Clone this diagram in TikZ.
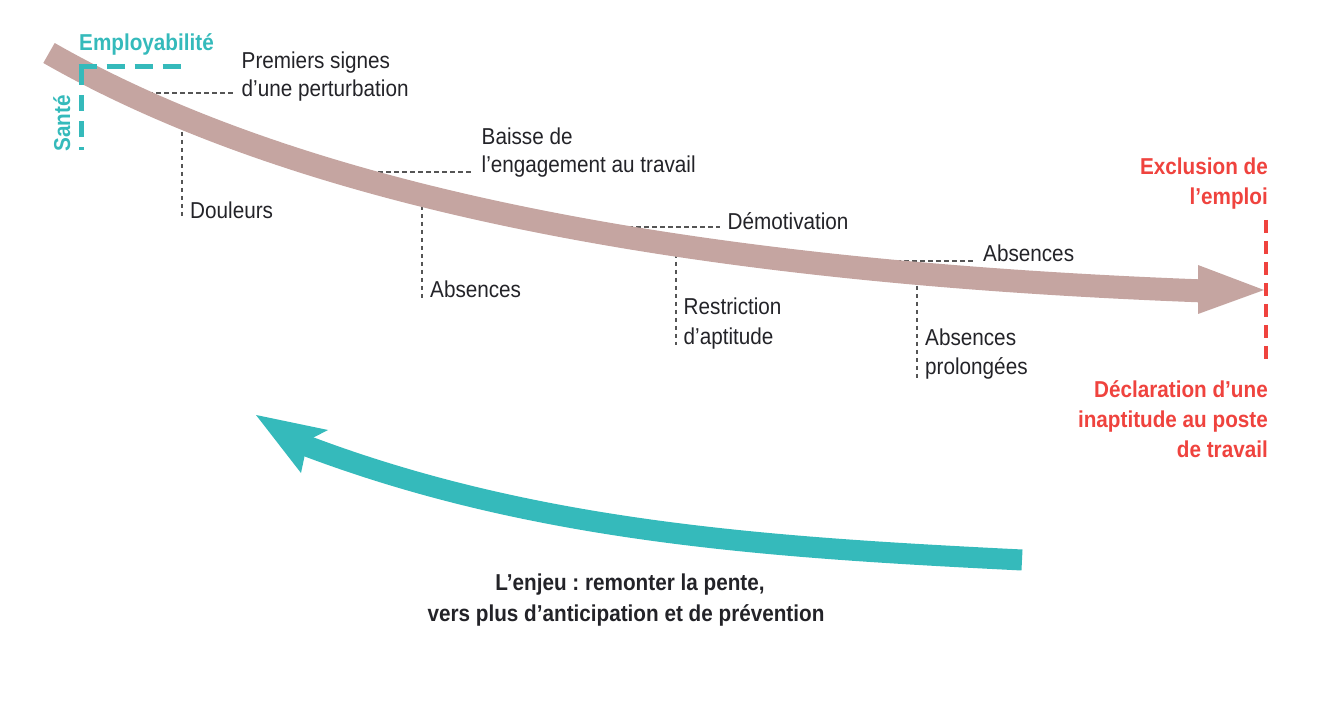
\documentclass[tikz,border=0pt]{standalone}
\usepackage{fontspec}
\setmainfont{Liberation Sans}[FakeStretch=0.9]
\frenchspacing
\definecolor{band}{RGB}{197,165,161}
\definecolor{teal}{RGB}{53,186,187}
\definecolor{excl}{RGB}{239,67,62}
\definecolor{txt}{RGB}{35,35,40}
\definecolor{lead}{RGB}{85,85,85}
\tikzset{
  lbl/.style={font=\fontsize{23}{30}\selectfont, text=txt, inner sep=0pt, anchor=base west},
  redlbl/.style={font=\fontsize{23}{30}\selectfont\bfseries, text=excl, inner sep=0pt, anchor=base east},
  teallbl/.style={font=\fontsize{23}{30}\selectfont\bfseries, text=teal, inner sep=0pt},
  boldlbl/.style={font=\fontsize{23}{30}\selectfont\bfseries, text=txt, inner sep=0pt, anchor=base},
  leader/.style={draw=lead, line width=1.4pt, dash pattern=on 4.5pt off 3.5pt},
  bandline/.style={draw=band, line width=23pt},
  tealline/.style={draw=teal, line width=21pt},
  tealdash/.style={draw=teal, line width=5pt},
  reddash/.style={draw=excl, line width=4.5pt, dash pattern=on 13pt off 8pt}
}
\begin{document}
\begin{tikzpicture}[x=1pt,y=-1pt]
\useasboundingbox (0,0) rectangle (1326,711);

% leader coordinates
\coordinate (l1a) at (140,93);  \coordinate (l1b) at (233,93);
\coordinate (l2a) at (182,124); \coordinate (l2b) at (182,218);
\coordinate (l3a) at (370,172); \coordinate (l3b) at (472,172);
\coordinate (l4a) at (422,198); \coordinate (l4b) at (422,298);
\coordinate (l5a) at (620,227); \coordinate (l5b) at (720,227);
\coordinate (l6a) at (676,246); \coordinate (l6b) at (676,345);
\coordinate (l7a) at (880,261); \coordinate (l7b) at (975,261);
\coordinate (l8a) at (917,278); \coordinate (l8b) at (917,380);
\draw[leader] (l1a) -- (l1b);
\draw[leader] (l2a) -- (l2b);
\draw[leader] (l3a) -- (l3b);
\draw[leader] (l4a) -- (l4b);
\draw[leader] (l5a) -- (l5b);
\draw[leader] (l6a) -- (l6b);
\draw[leader] (l7a) -- (l7b);
\draw[leader] (l8a) -- (l8b);

% brown descending arrow
\coordinate (bstart) at (49,53);
\coordinate (bend) at (1204,291);
\draw[bandline] (bstart) .. controls (329,213) and (750,274) .. (bend);
\coordinate (htop) at (1198,265);
\coordinate (hbot) at (1198,314);
\coordinate (htip) at (1264,290);
\fill[band] (htop) -- (htip) -- (hbot) -- cycle;

% teal L (Santé / Employabilité)
\coordinate (corner) at (81,67);
\coordinate (santeend) at (81,150);
\coordinate (empend) at (181,67);
\draw[tealdash, dash pattern=on 16pt off 10pt] ([yshift=-2.5pt]corner) -- (santeend);
\draw[tealdash, dash pattern=on 18pt off 10pt] ([xshift=-2.5pt]corner) -- (empend);

% red dashed limit
\coordinate (rtop) at (1266,220);
\coordinate (rbot) at (1266,362);
\draw[reddash] (rtop) -- (rbot);

% teal ascending arrow
\coordinate (tstart) at (1022,560);
\coordinate (tend) at (308,446.5);
\draw[tealline] (tstart) .. controls (772,547.5) and (538,533) .. (tend);
\coordinate (ttip) at (256,415);
\coordinate (tbarb1) at (328,430);
\coordinate (tin1) at (313.5,437.5);
\coordinate (tin2) at (304.5,456.5);
\coordinate (tbarb2) at (301,473);
\fill[teal] (ttip) -- (tbarb1) -- (tin1) -- (tin2) -- (tbarb2) -- cycle;

% labels
\node[teallbl, anchor=base west] (emp) at (79,51) {Employabilité};
\node[teallbl, rotate=90, anchor=base west] (sante) at (70,152) {Santé};

\node[lbl] (prem1) at (241.5,69) {Premiers signes};
\node[lbl] (prem2) at (241.5,97) {d’une perturbation};
\node[lbl] (doul) at (190,219) {Douleurs};
\node[lbl] (bais1) at (481.5,145) {Baisse de};
\node[lbl] (bais2) at (481.5,173) {l’engagement au travail};
\node[lbl] (abs1) at (430,298) {Absences};
\node[lbl] (demo) at (727.5,230) {Démotivation};
\node[lbl] (rest1) at (683.5,315) {Restriction};
\node[lbl] (rest2) at (683.5,345) {d’aptitude};
\node[lbl] (abs2) at (983,262) {Absences};
\node[lbl] (absp1) at (925,346) {Absences};
\node[lbl] (absp2) at (925,375) {prolongées};

\node[redlbl] (excl1) at (1268,175) {Exclusion de};
\node[redlbl] (excl2) at (1268,205) {l’emploi};
\node[redlbl] (decl1) at (1268,397) {Déclaration d’une};
\node[redlbl] (decl2) at (1268,427) {inaptitude au poste};
\node[redlbl] (decl3) at (1268,457) {de travail};

\node[boldlbl] (enj1) at (630,590) {L’enjeu : remonter la pente,};
\node[boldlbl] (enj2) at (626,621) {vers plus d’anticipation et de prévention};
\end{tikzpicture}
\end{document}
